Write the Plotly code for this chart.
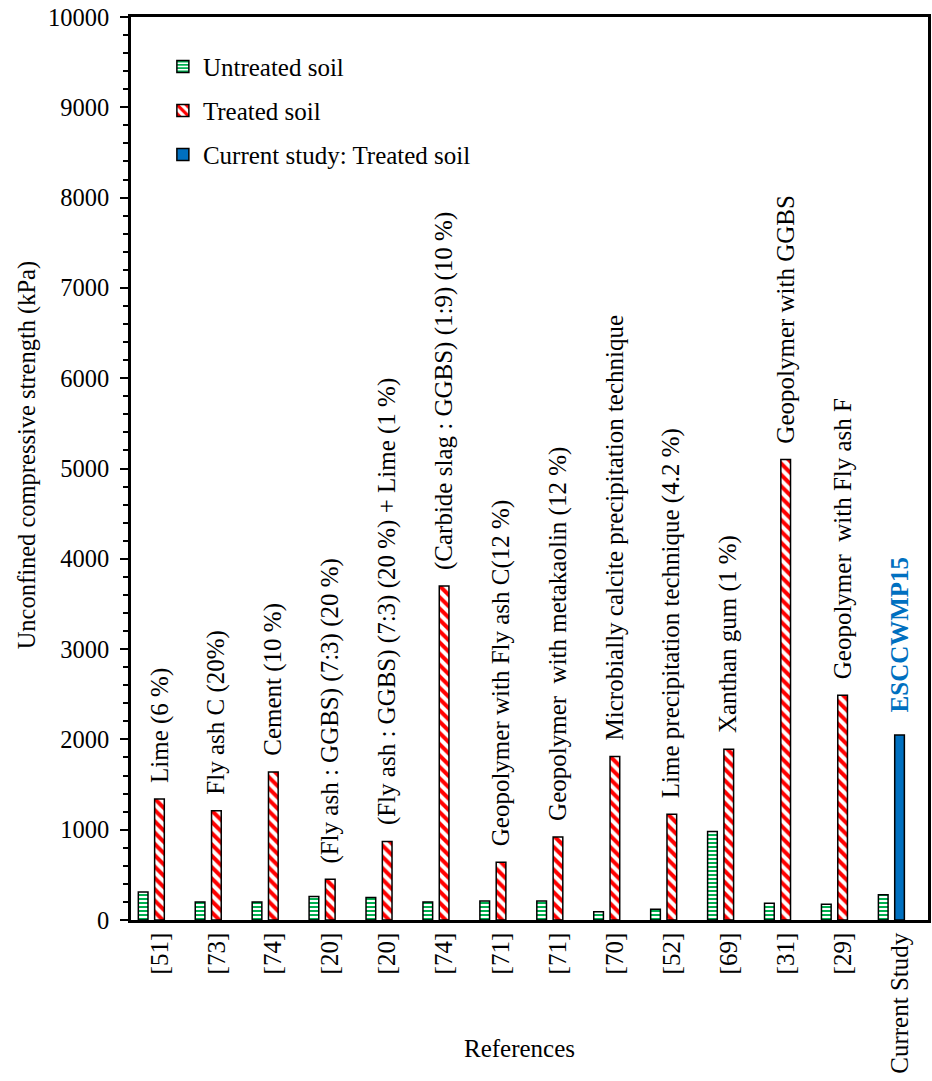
import plotly.graph_objects as go

# Reference numbers and strengths (kPa)
refs = ["[51]", "[73]", "[74]", "[20]", "[20]", "[74]", "[71]", "[71]",
        "[70]", "[52]", "[69]", "[31]", "[29]", "Current Study"]
untreated = [310, 200, 200, 260, 250, 200, 210, 210, 90, 120, 980, 185, 175, 280]
treated = [1340, 1210, 1640, 450, 870, 3700, 640, 920, 1810, 1170, 1890, 5100, 2490]
current_treated = [2050]
stabilisers = [
    "Lime (6 %)",
    "Fly ash C (20%)",
    "Cement (10 %)",
    "(Fly ash : GGBS) (7:3) (20 %)",
    "(Fly ash : GGBS) (7:3) (20 %) + Lime (1 %)",
    "(Carbide slag : GGBS) (1:9) (10 %)",
    "Geopolymer with Fly ash C(12 %)",
    "Geopolymer\u00a0 with metakaolin (12 %)",
    "Microbially calcite precipitation technique",
    "Lime precipitation technique (4.2 %)",
    "Xanthan gum (1 %)",
    "Geopolymer with GGBS",
    "Geopolymer\u00a0 with Fly ash F",
]
current_label = "ESCCWMP15"

FONT = "Liberation Serif, Times New Roman, serif"
GREEN = "#00B050"
RED = "#FF0000"
BLUE = "#0070C0"

x_all = list(range(len(refs)))
x_treated = x_all[:len(treated)]
x_current = [len(refs) - 1]

W = 0.17
fig = go.Figure()
fig.add_trace(go.Bar(
    x=x_all, y=untreated, name="Untreated soil", legendgroup="a",
    width=W, offset=-0.2865 - W / 2,
    marker=dict(color=GREEN, line=dict(color="black", width=1.5),
                pattern=dict(shape="-", fgcolor=GREEN, bgcolor="white",
                             size=4, solidity=0.5, fillmode="replace")),
))
fig.add_trace(go.Bar(
    x=x_treated, y=treated, name="Treated soil", legendgroup="b",
    width=W, offset=-W / 2,
    marker=dict(color=RED, line=dict(color="black", width=1.5),
                pattern=dict(shape="\\", fgcolor=RED, bgcolor="white",
                             size=8, solidity=0.5, fillmode="replace")),
))
fig.add_trace(go.Bar(
    x=x_current, y=current_treated, name="Current study: Treated soil",
    legendgroup="c", width=W, offset=-W / 2,
    marker=dict(color=BLUE, line=dict(color="black", width=1.5)),
))

annotations = []
for xi, (txt, val) in enumerate(zip(stabilisers, treated)):
    annotations.append(dict(
        x=xi, y=val, xref="x", yref="y", text=txt, textangle=-90,
        showarrow=False, xanchor="center", yanchor="bottom", yshift=15,
        borderpad=0, font=dict(family=FONT, size=25, color="black"),
    ))
annotations.append(dict(
    x=x_current[0], y=current_treated[0], xref="x", yref="y",
    text="<b>%s</b>" % current_label, textangle=-90, showarrow=False,
    xanchor="center", yanchor="bottom", yshift=21, borderpad=0,
    font=dict(family=FONT, size=25, color=BLUE),
))
# y-axis title, placed by hand to the left of the tick labels
annotations.append(dict(
    x=-0.13, y=0.515, xref="paper", yref="paper",
    text="Unconfined compressive strength (kPa)", textangle=-90,
    showarrow=False, xanchor="center", yanchor="middle",
    font=dict(family=FONT, size=24.5, color="black"),
))
# x-axis title, below the rotated tick labels
annotations.append(dict(
    x=0.4875, y=(920 - 1048) / 903, xref="paper", yref="paper",
    text="References", showarrow=False, xanchor="center", yanchor="middle",
    font=dict(family=FONT, size=25, color="black"),
))

fig.update_layout(
    width=932, height=1081,
    margin=dict(l=131, r=1, t=17, b=161),
    plot_bgcolor="white", paper_bgcolor="white",
    barmode="overlay",
    font=dict(family=FONT, size=25, color="black"),
    annotations=annotations,
    showlegend=True,
    legend=dict(x=0.04, y=0.9704, xanchor="left", yanchor="top",
                bgcolor="rgba(0,0,0,0)", tracegroupgap=8.5,
                font=dict(family=FONT, size=25, color="black")),
)
fig.update_xaxes(
    range=[-0.5, len(refs) - 0.5],
    tickmode="array", tickvals=x_all, ticktext=refs,
    tickangle=-90, ticks="", showgrid=False, zeroline=False,
    showline=True, linecolor="black", linewidth=2.5, mirror=True,
    tickfont=dict(family=FONT, size=25, color="black"),
)
fig.update_yaxes(
    range=[0, 10000], dtick=1000, tick0=0, tickformat="d",
    ticks="outside", ticklen=8, tickwidth=2, tickcolor="black",
    minor=dict(dtick=200, ticks="outside", ticklen=5, tickwidth=1.5,
               tickcolor="black", showgrid=False),
    showgrid=False, zeroline=False,
    showline=True, linecolor="black", linewidth=2.5, mirror=True,
    tickfont=dict(family=FONT, size=24.5, color="black"),
    ticklabelstandoff=6,
)

fig.write_html("out.html")
